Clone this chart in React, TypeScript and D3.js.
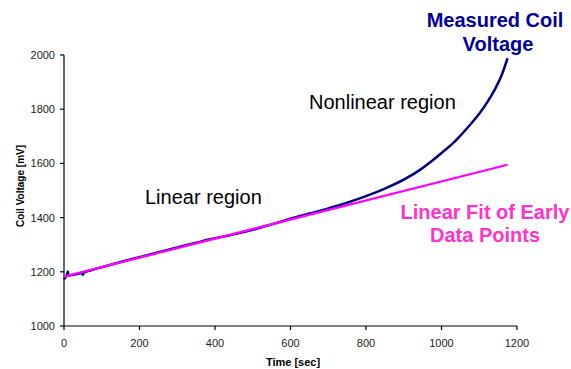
import React from "react";
import * as d3 from "d3";

const measuredTime = [0, 3, 8, 10, 12, 20, 35, 48, 50, 52, 70, 100, 150, 200, 250, 300, 350, 380, 420, 450, 500, 550, 600, 650, 700, 750, 800, 850, 900, 943, 970, 1004, 1030, 1049, 1074, 1100, 1121, 1141, 1160, 1175];
const measuredVolt = [1172, 1178, 1190, 1201, 1186, 1188, 1192, 1196, 1189, 1197, 1205, 1217, 1236, 1254, 1272, 1290, 1307, 1318, 1329, 1338, 1355, 1375, 1396, 1415, 1434, 1455, 1479, 1507, 1540, 1576, 1604, 1643, 1674, 1701, 1740, 1783, 1825, 1872, 1928, 1988];
const fitTime = [0, 1175];
const fitVolt = [1182, 1595];
const xTicks = [0, 200, 400, 600, 800, 1000, 1200];
const yTicks = [1000, 1200, 1400, 1600, 1800, 2000];

export default function App() {
  const x = d3.scaleLinear().domain([0, 1200]).range([64, 517]);
  const y = d3.scaleLinear().domain([1000, 2000]).range([326, 55]);
  const measured = measuredTime.map((t, i) => [t, measuredVolt[i]] as [number, number]);
  const fit = fitTime.map((t, i) => [t, fitVolt[i]] as [number, number]);
  const line = d3
    .line<[number, number]>()
    .x((d) => x(d[0]))
    .y((d) => y(d[1]))
    .curve(d3.curveMonotoneX);
  const font = "Liberation Sans, Arial, sans-serif";
  return (
    <svg
      width={571}
      height={369}
      style={{ position: "absolute", left: 0, top: 0, background: "#fff" }}
      fontFamily={font}
    >
      <rect width={571} height={369} fill="#fff" />
      {/* axes */}
      <line x1={x(0)} x2={x(0)} y1={y(2000)} y2={y(1000)} stroke="#000" strokeWidth={1.2} />
      <line x1={x(0)} x2={x(1200)} y1={y(1000)} y2={y(1000)} stroke="#000" strokeWidth={1.2} />
      {yTicks.map((v) => (
        <g key={"y" + v}>
          <line x1={x(0) - 4} x2={x(0)} y1={y(v)} y2={y(v)} stroke="#000" strokeWidth={1.2} />
          <text x={55} y={y(v)} dy="0.36em" textAnchor="end" fontSize={11} fill="#222">
            {v}
          </text>
        </g>
      ))}
      {xTicks.map((v) => (
        <g key={"x" + v}>
          <line x1={x(v)} x2={x(v)} y1={y(1000)} y2={y(1000) + 4} stroke="#000" strokeWidth={1.2} />
          <text x={x(v)} y={346.5} textAnchor="middle" fontSize={11} fill="#222">
            {v}
          </text>
        </g>
      ))}
      <text x={293} y={366} textAnchor="middle" fontSize={11} fontWeight="bold" fill="#000">
        Time [sec]
      </text>
      <text
        transform="translate(23.5,186) rotate(-90)"
        textAnchor="middle"
        fontSize={10}
        fontWeight="bold"
        fill="#000"
      >
        Coil Voltage [mV]
      </text>
      {/* series */}
      <path d={line(measured) || ""} fill="none" stroke="#000080" strokeWidth={2.5} />
      <path d={line(fit) || ""} fill="none" stroke="#ff00ff" strokeWidth={2.3} />
      {/* annotations */}
      <text x={145} y={204} fontSize={20} fill="#000">
        Linear region
      </text>
      <text x={309} y={109} fontSize={20} fill="#000">
        Nonlinear region
      </text>
      <text textAnchor="middle" fontSize={20} fontWeight="bold" fill="#000099">
        <tspan x={495} y={27}>Measured Coil</tspan>
        <tspan x={498} y={51}>Voltage</tspan>
      </text>
      <text textAnchor="middle" fontSize={20} fontWeight="bold" fill="#ff33cc">
        <tspan x={485} y={219}>Linear Fit of Early</tspan>
        <tspan x={485} y={242}>Data Points</tspan>
      </text>
    </svg>
  );
}
